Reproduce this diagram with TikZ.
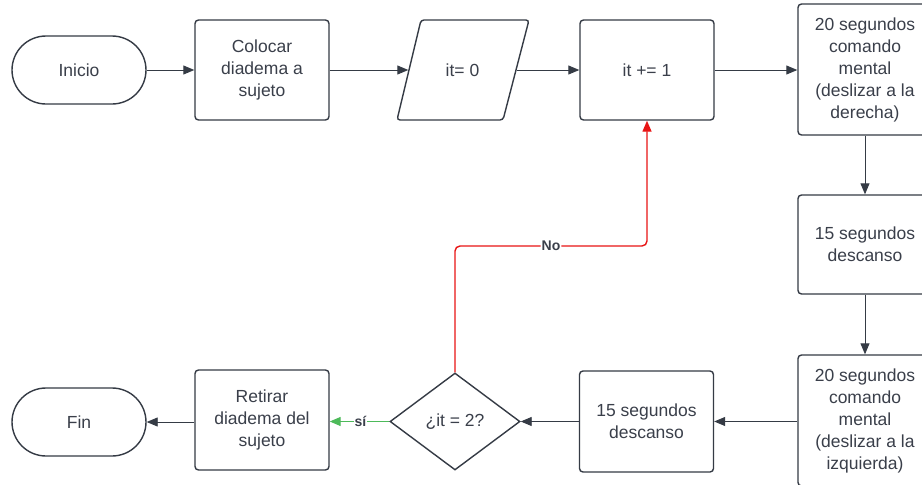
\documentclass[tikz,border=0pt]{standalone}
\usepackage{fontspec}
\setmainfont{Liberation Sans}
\usetikzlibrary{arrows.meta,shapes.geometric}
\definecolor{ln}{HTML}{353B45}
\definecolor{tx}{HTML}{3A3F4A}
\definecolor{rd}{HTML}{E81414}
\definecolor{gr}{HTML}{4DBA5A}
\tikzset{
  base/.style={draw=ln, line width=1.4pt, text=tx, font=\fontsize{17.5}{22}\selectfont, align=center, inner sep=0pt},
  box/.style={base, rectangle, rounded corners=3.5pt, minimum width=134pt, minimum height=100pt},
  term/.style={base, rectangle, rounded corners=34pt, minimum width=134pt, minimum height=68pt},
  dec/.style={base, diamond, minimum width=130pt, minimum height=97pt},
  conn/.style={draw=ln, line width=0.9pt, -{Triangle[length=11pt,width=9pt]}},
  lab/.style={font=\fontsize{14}{16}\selectfont\bfseries, text=tx, fill=white, inner sep=1pt}
}
\begin{document}
\begin{tikzpicture}[x=1pt,y=-1pt]
\useasboundingbox[fill=white] (0,0) rectangle (922,485);
\node[term] (ini) at (79,70) {Inicio};
\node[box] (col) at (262,70) {Colocar\\diadema a\\sujeto};
\draw[draw=ln, line width=1.4pt, rounded corners=3pt] (397,120) -- (421,20) -- (529,20) -- (503,120) -- cycle;
\node[base, draw=none, minimum width=107pt, minimum height=100pt] (p) at (462.5,70) {it= 0};
\node[box] (inc) at (647,70) {it += 1};
\node[box, minimum height=131pt] (c1) at (865,69.5) {20 segundos\\comando\\mental\\(deslizar a la\\derecha)};
\node[box, minimum height=99pt] (d1) at (865,244.5) {15 segundos\\descanso};
\node[box, minimum height=131pt] (c2) at (865,420.5) {20 segundos\\comando\\mental\\(deslizar a la\\izquierda)};
\node[box, minimum height=101pt] (d2) at (646.5,421.5) {15 segundos\\descanso};
\node[dec] (q) at (455,421.5) {¿it = 2?};
\node[box] (ret) at (262,420) {Retirar\\diadema del\\sujeto};
\node[term] (fin) at (79,422) {Fin};
\coordinate (n1) at (455,246);
\coordinate (n2) at (647,246);
\draw[conn] (ini) -- (col);
\draw[conn] (col) -- (p);
\draw[conn] (p) -- (inc);
\draw[conn] (inc) -- (c1.west |- inc);
\draw[conn] (c1) -- (d1);
\draw[conn] (d1) -- (c2);
\draw[conn] (c2.west |- d2) -- (d2);
\draw[conn] (d2) -- (q);
\draw[conn] (ret.west |- fin) -- (fin);
\draw[draw=gr, line width=1.2pt, -{Triangle[length=11pt,width=9pt]}] (q.west) -- (ret.east |- q.west) node[lab, pos=0.5, xshift=1pt] {sí};
\draw[draw=rd, line width=1.4pt, rounded corners=5pt, -{Triangle[length=11pt,width=9pt]}] (q.north) -- (n1) -- node[lab, pos=0.5] {No} (n2) -- (inc.south);
\end{tikzpicture}
\end{document}
